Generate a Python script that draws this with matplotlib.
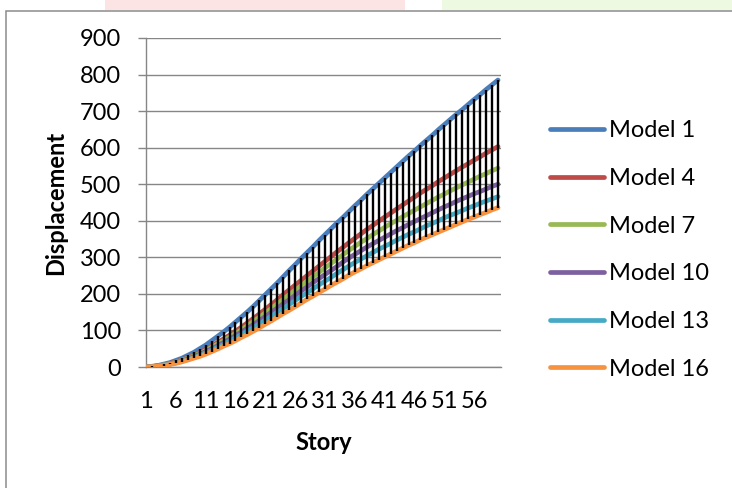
"""
Story displacement chart - six models, with high-low lines between the
largest and smallest model at every story.
"""

import matplotlib.pyplot as plt
import matplotlib.patches as mpatches

FIGURE_OUT = "out.png"

# ── Data ────────────────────────────────────────────────────────────────────
stories = list(range(1, 61))

model_1 = [0, 2, 4, 8, 12, 18, 24, 32, 40, 50, 60, 72, 84, 96, 109, 123, 137, 151, 166, 182,
           198, 214, 230, 247, 264, 280, 297, 313, 329, 346, 362, 378, 394, 409, 425, 441, 456, 472, 487, 502,
           517, 532, 547, 562, 577, 591, 606, 620, 634, 649, 663, 677, 691, 704, 718, 732, 745, 759, 772, 785]
model_4 = [0, 1, 3, 6, 10, 14, 19, 25, 32, 40, 48, 57, 67, 77, 87, 98, 109, 121, 133, 145,
           158, 171, 184, 198, 211, 224, 237, 250, 263, 276, 289, 302, 315, 327, 340, 352, 364, 376, 387, 399,
           410, 421, 432, 443, 454, 465, 476, 486, 496, 507, 517, 527, 537, 547, 556, 566, 575, 585, 594, 603]
model_7 = [0, 1, 3, 6, 9, 13, 18, 24, 30, 37, 45, 54, 63, 72, 82, 92, 102, 113, 125, 136,
           148, 160, 173, 185, 198, 210, 222, 235, 247, 259, 271, 283, 295, 307, 319, 330, 341, 351, 362, 372,
           382, 392, 401, 411, 420, 429, 438, 447, 456, 465, 473, 482, 490, 498, 506, 514, 522, 529, 537, 544]
model_10 = [0, 1, 3, 5, 8, 12, 17, 22, 28, 35, 42, 50, 58, 67, 76, 86, 96, 106, 116, 127,
            138, 150, 161, 173, 184, 196, 208, 219, 231, 242, 253, 264, 275, 287, 298, 308, 318, 328, 337, 346,
            355, 364, 373, 381, 390, 398, 406, 414, 422, 430, 438, 445, 453, 460, 467, 474, 480, 487, 494, 500]
model_13 = [0, 1, 3, 5, 8, 11, 16, 20, 26, 32, 39, 46, 54, 62, 71, 80, 89, 98, 108, 118,
            128, 139, 150, 160, 171, 182, 193, 203, 214, 225, 235, 245, 256, 266, 276, 286, 295, 304, 313, 322,
            330, 338, 347, 355, 363, 370, 378, 386, 393, 400, 408, 415, 421, 428, 435, 441, 448, 454, 460, 466]
model_16 = [0, 1, 2, 4, 7, 10, 14, 19, 24, 29, 35, 42, 49, 57, 64, 72, 81, 89, 98, 107,
            117, 126, 136, 146, 155, 165, 175, 185, 194, 204, 213, 223, 232, 241, 251, 260, 268, 277, 285, 293,
            301, 309, 317, 325, 333, 340, 348, 355, 362, 369, 376, 383, 390, 397, 404, 410, 417, 423, 430, 436]

series_names = ["Model 1", "Model 4", "Model 7", "Model 10", "Model 13", "Model 16"]
series_values = [model_1, model_4, model_7, model_10, model_13, model_16]
series_colors = ["#4A7EBB", "#BE4B48", "#98B954", "#7D60A0", "#46AAC5", "#F69240"]

x_tick_labels = [str(s) for s in range(1, 61, 5)]
y_ticks = list(range(0, 901, 100))

# ── Style ────────────────────────────────────────────────────────────────────
plt.rcParams["font.family"] = ["Lato", "DejaVu Sans"]
FS = 17
GRID = "#868686"

fig = plt.figure(figsize=(7.32, 4.88), dpi=100)
ax = fig.add_axes([146 / 732, 1 - 367 / 488, (501 - 146) / 732, (367 - 38) / 488])

# page artefacts around the chart
fig.patches.append(mpatches.Rectangle((105 / 732, 1 - 10 / 488), 300 / 732, 10 / 488,
                                      transform=fig.transFigure, facecolor="#FDE4E4",
                                      edgecolor="none", zorder=0))
fig.patches.append(mpatches.Rectangle((442 / 732, 1 - 10 / 488), 290 / 732, 10 / 488,
                                      transform=fig.transFigure, facecolor="#EEF9E2",
                                      edgecolor="none", zorder=0))
fig.patches.append(mpatches.Rectangle((6 / 732, -0.1), 1.2, 1.1 - 11 / 488,
                                      transform=fig.transFigure, facecolor="none",
                                      edgecolor="#8C8C8C", lw=1.1, zorder=1))

# series lines
for name, vals, col in zip(series_names, series_values, series_colors):
    ax.plot(stories, vals, color=col, lw=3.4, solid_capstyle="round", label=name, zorder=3)

# high-low lines
highs = [max(v) for v in zip(*series_values)]
lows = [min(v) for v in zip(*series_values)]
ax.vlines(stories, lows, highs, color="black", lw=1.7, zorder=4)

ax.set_xlim(1, 60.5)
ax.set_ylim(0, 900)
ax.set_yticks(y_ticks)
ax.set_xticks(list(range(1, 61, 5)))
ax.set_xticklabels(x_tick_labels)
ax.grid(axis="y", color=GRID, lw=1.0, zorder=1)
ax.set_axisbelow(True)

for side in ["top", "right"]:
    ax.spines[side].set_visible(False)
for side in ["left", "bottom"]:
    ax.spines[side].set_color(GRID)
    ax.spines[side].set_linewidth(1.0)

ax.tick_params(axis="y", length=6, width=1.0, color=GRID, pad=12, labelsize=FS)
ax.tick_params(axis="x", length=0, pad=17, labelsize=FS)

ax.set_xlabel("Story", fontsize=FS, fontweight="bold", labelpad=14)
ax.set_ylabel("Displacement", fontsize=FS, fontweight="bold", labelpad=9)

fig.legend(loc="center left", bbox_to_anchor=(550 / 732, 1 - 250 / 488), frameon=False,
           fontsize=FS, handlelength=2.3, handletextpad=0.2, labelspacing=1.13,
           borderpad=0, borderaxespad=0)

fig.savefig(FIGURE_OUT, dpi=100)
